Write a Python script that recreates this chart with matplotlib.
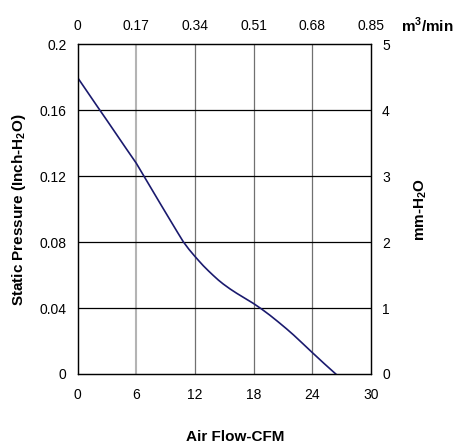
import matplotlib
matplotlib.use('Agg')
import matplotlib.pyplot as plt

plt.rcParams['font.family'] = ['Liberation Sans', 'DejaVu Sans']

# fan curve: CFM vs inch-H2O
cfm = [0, 1, 2, 3, 4, 5, 6, 7, 7.7, 8.5, 9.46, 10.2, 10.82, 11.4, 11.94,
       12.4, 12.86, 13.4, 13.88, 14.4, 14.9, 15.6, 16.27, 17.1, 17.96, 18.8,
       19.66, 20.5, 21.37, 22.1, 23.0, 24.0, 25.2, 26.4]
pressure = [0.180, 0.1713, 0.1626, 0.1540, 0.1453, 0.1366, 0.128, 0.118,
            0.111, 0.103, 0.0935, 0.0862, 0.0802, 0.0756, 0.0718, 0.0687,
            0.0657, 0.0625, 0.0598, 0.0570, 0.0546, 0.0516, 0.0490, 0.0460,
            0.0429, 0.0395, 0.0357, 0.0317, 0.0274, 0.0236, 0.0186, 0.0130,
            0.0064, 0.0]

x_ticks = [0, 6, 12, 18, 24, 30]
y_ticks = [0, 0.04, 0.08, 0.12, 0.16, 0.2]
y_labels = ['0', '0.04', '0.08', '0.12', '0.16', '0.2']
top_labels = ['0', '0.17', '0.34', '0.51', '0.68', '0.85']
right_labels = ['0', '1', '2', '3', '4', '5']

fig = plt.figure(figsize=(4.57, 4.48), dpi=100)
ax = fig.add_axes([0.1696, 0.1652, 0.6422, 0.7355])

ax.set_xlim(0, 30)
ax.set_ylim(0, 0.2)
ax.set_xticks(x_ticks)
ax.set_yticks(y_ticks)
ax.set_yticklabels(y_labels)
ax.tick_params(axis='x', length=0, labelsize=10, pad=10)
ax.tick_params(axis='y', length=0, labelsize=10, pad=8)

# the first vertical grid line is drawn lighter in the original
for i, xv in enumerate(x_ticks[1:-1]):
    if i == 0:
        ax.axvline(xv, color='#b4b4b4', lw=1.5, zorder=1)
    else:
        ax.axvline(xv, color='#707070', lw=0.9, zorder=1)
for yv in y_ticks[1:-1]:
    ax.axhline(yv, color='black', lw=0.9, zorder=1)
for s in ax.spines.values():
    s.set_linewidth(0.9)

ax.plot(cfm, pressure, color='#1a1a6e', lw=1.2, zorder=3)

ax.set_xlabel('Air Flow-CFM', fontsize=11, fontweight='bold')
ax.xaxis.set_label_coords(0.537, -0.17)
ax.set_ylabel('Static Pressure (Inch-H$_\\mathregular{2}$O)', fontsize=11,
              fontweight='bold', labelpad=8)

top = ax.twiny()
top.set_xlim(0, 30)
top.set_xticks(x_ticks)
top.set_xticklabels(top_labels)
top.tick_params(length=0, labelsize=10, pad=8)
fig.text(0.935, 0.944, 'm$^\\mathregular{3}$/min', fontsize=11, fontweight='bold',
         ha='center', va='center')

right = ax.twinx()
right.set_ylim(0, 0.2)
right.set_yticks(y_ticks)
right.set_yticklabels(right_labels)
right.tick_params(length=0, labelsize=10, pad=8)
right.set_ylabel('mm-H$_\\mathregular{2}$O', fontsize=11, fontweight='bold',
                 labelpad=16)

fig.savefig('out.png', dpi=100)
